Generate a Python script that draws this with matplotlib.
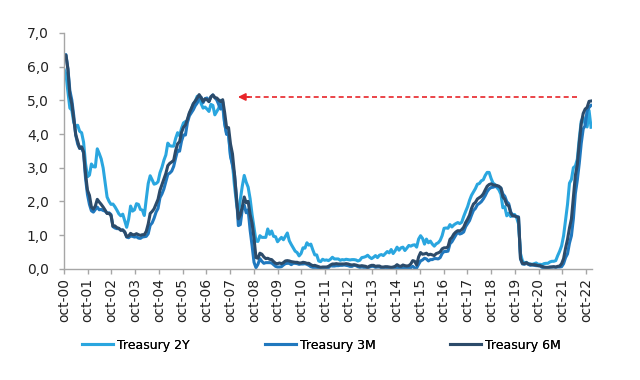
import matplotlib
matplotlib.use("Agg")
import matplotlib.pyplot as plt
import numpy as np

# Monthly values, Oct 2000 .. Mar 2023 (%)
treasury_3m = [
    6.29, 6.36, 5.94,
    5.29, 5.01, 4.54, 3.97, 3.70, 3.57, 3.59, 3.44, 2.69, 2.20, 1.91, 1.72,
    1.68, 1.76, 1.83, 1.75, 1.76, 1.73, 1.71, 1.65, 1.66, 1.61, 1.25, 1.21,
    1.19, 1.19, 1.15, 1.15, 1.09, 0.94, 0.92, 0.97, 0.96, 0.94, 0.95, 0.91,
    0.90, 0.94, 0.95, 0.96, 1.04, 1.29, 1.36, 1.50, 1.68, 1.79, 2.11, 2.22,
    2.37, 2.58, 2.80, 2.84, 2.90, 3.04, 3.29, 3.52, 3.49, 3.79, 3.97, 3.97,
    4.34, 4.54, 4.63, 4.72, 4.84, 4.92, 5.08, 5.09, 4.93, 5.05, 5.07, 4.97,
    5.11, 5.16, 5.08, 5.01, 4.87, 4.74, 4.96, 4.32, 3.99, 4.00, 3.35, 3.07,
    2.82, 2.17, 1.28, 1.31, 1.76, 1.89, 1.66, 1.75, 1.15, 0.69, 0.19, 0.03,
    0.13, 0.30, 0.22, 0.16, 0.18, 0.18, 0.18, 0.17, 0.12, 0.07, 0.05, 0.05,
    0.06, 0.11, 0.15, 0.16, 0.16, 0.12, 0.16, 0.16, 0.15, 0.13, 0.14, 0.14,
    0.15, 0.13, 0.10, 0.06, 0.04, 0.04, 0.04, 0.02, 0.01, 0.02, 0.01, 0.01,
    0.03, 0.09, 0.08, 0.08, 0.09, 0.09, 0.10, 0.10, 0.11, 0.10, 0.09, 0.07,
    0.07, 0.10, 0.09, 0.06, 0.04, 0.05, 0.04, 0.04, 0.02, 0.05, 0.07, 0.07,
    0.04, 0.05, 0.05, 0.03, 0.03, 0.04, 0.03, 0.03, 0.02, 0.02, 0.02, 0.03,
    0.03, 0.02, 0.03, 0.02, 0.02, 0.02, 0.03, 0.07, 0.02, 0.02, 0.13, 0.23,
    0.26, 0.31, 0.29, 0.23, 0.27, 0.27, 0.30, 0.30, 0.29, 0.33, 0.45, 0.51,
    0.51, 0.52, 0.74, 0.80, 0.90, 1.00, 1.09, 1.03, 1.05, 1.09, 1.25, 1.34,
    1.43, 1.59, 1.73, 1.79, 1.90, 1.94, 1.99, 2.07, 2.17, 2.29, 2.37, 2.41,
    2.42, 2.44, 2.45, 2.43, 2.40, 2.22, 2.15, 1.99, 1.93, 1.69, 1.57, 1.57,
    1.55, 1.54, 0.29, 0.14, 0.13, 0.16, 0.13, 0.10, 0.11, 0.10, 0.09, 0.09,
    0.08, 0.04, 0.03, 0.02, 0.02, 0.04, 0.05, 0.05, 0.04, 0.05, 0.05, 0.06,
    0.15, 0.33, 0.44, 0.76, 0.98, 1.49, 2.23, 2.63, 3.13, 3.72, 4.15, 4.25,
    4.69, 4.79, 4.85,
]

treasury_6m = [
    6.34, 6.34, 5.93,
    5.15, 4.89, 4.43, 3.98, 3.78, 3.58, 3.62, 3.47, 2.82, 2.33, 2.18, 1.83,
    1.77, 1.86, 2.06, 1.98, 1.91, 1.83, 1.74, 1.64, 1.64, 1.58, 1.26, 1.27,
    1.22, 1.20, 1.14, 1.15, 1.09, 0.95, 0.97, 1.05, 1.01, 1.01, 1.04, 1.01,
    0.99, 1.01, 1.01, 1.11, 1.33, 1.64, 1.70, 1.78, 1.92, 2.06, 2.33, 2.50,
    2.66, 2.83, 3.06, 3.13, 3.17, 3.22, 3.51, 3.71, 3.77, 4.05, 4.20, 4.27,
    4.44, 4.63, 4.76, 4.90, 4.98, 5.07, 5.17, 5.08, 4.97, 5.04, 5.02, 4.96,
    5.10, 5.16, 5.08, 5.07, 5.01, 4.96, 5.02, 4.64, 4.19, 4.19, 3.70, 3.41,
    2.82, 2.11, 1.48, 1.60, 1.83, 2.13, 1.96, 2.00, 1.61, 1.35, 0.90, 0.33,
    0.31, 0.46, 0.43, 0.35, 0.30, 0.31, 0.28, 0.27, 0.21, 0.16, 0.15, 0.17,
    0.15, 0.18, 0.23, 0.24, 0.23, 0.21, 0.20, 0.19, 0.19, 0.17, 0.17, 0.19,
    0.18, 0.16, 0.16, 0.12, 0.09, 0.10, 0.08, 0.06, 0.04, 0.05, 0.05, 0.05,
    0.07, 0.11, 0.14, 0.14, 0.15, 0.14, 0.14, 0.14, 0.14, 0.15, 0.14, 0.12,
    0.11, 0.12, 0.11, 0.09, 0.08, 0.09, 0.08, 0.07, 0.04, 0.08, 0.10, 0.10,
    0.07, 0.08, 0.08, 0.05, 0.05, 0.06, 0.06, 0.05, 0.04, 0.05, 0.07, 0.12,
    0.08, 0.07, 0.11, 0.09, 0.08, 0.09, 0.14, 0.24, 0.22, 0.11, 0.35, 0.48,
    0.43, 0.44, 0.46, 0.41, 0.43, 0.41, 0.39, 0.45, 0.47, 0.50, 0.59, 0.62,
    0.62, 0.65, 0.87, 0.93, 1.03, 1.09, 1.13, 1.12, 1.16, 1.23, 1.37, 1.47,
    1.59, 1.79, 1.92, 1.97, 2.07, 2.11, 2.15, 2.22, 2.34, 2.45, 2.50, 2.52,
    2.49, 2.48, 2.47, 2.45, 2.39, 2.13, 2.06, 1.90, 1.87, 1.66, 1.57, 1.57,
    1.54, 1.52, 0.31, 0.16, 0.15, 0.18, 0.14, 0.13, 0.12, 0.12, 0.11, 0.09,
    0.09, 0.07, 0.05, 0.04, 0.04, 0.05, 0.05, 0.06, 0.05, 0.07, 0.08, 0.15,
    0.30, 0.61, 0.87, 1.21, 1.48, 2.11, 2.77, 3.09, 3.74, 4.30, 4.61, 4.74,
    4.79, 4.97, 4.98,
]

treasury_2y = [
    5.93, 5.78, 5.26,
    4.77, 4.71, 4.34, 4.23, 4.26, 4.08, 4.04, 3.76, 3.12, 2.73, 2.78, 3.11,
    3.03, 3.02, 3.56, 3.42, 3.26, 2.99, 2.56, 2.13, 2.00, 1.91, 1.92, 1.84,
    1.74, 1.63, 1.57, 1.62, 1.42, 1.23, 1.47, 1.86, 1.71, 1.75, 1.93, 1.91,
    1.76, 1.74, 1.58, 2.07, 2.53, 2.76, 2.64, 2.51, 2.53, 2.58, 2.85, 3.01,
    3.22, 3.38, 3.73, 3.65, 3.64, 3.64, 3.87, 4.04, 3.95, 4.17, 4.33, 4.37,
    4.39, 4.61, 4.72, 4.89, 4.97, 5.12, 5.12, 4.90, 4.77, 4.80, 4.74, 4.67,
    4.88, 4.85, 4.57, 4.67, 4.77, 5.00, 4.82, 4.31, 4.01, 3.97, 3.34, 3.12,
    2.48, 1.97, 1.62, 2.05, 2.45, 2.77, 2.57, 2.42, 2.08, 1.61, 1.21, 0.82,
    0.81, 0.98, 0.93, 0.93, 0.93, 1.18, 1.02, 1.12, 0.96, 0.95, 0.80, 0.87,
    0.93, 0.86, 0.96, 1.06, 0.83, 0.72, 0.62, 0.52, 0.48, 0.38, 0.45, 0.62,
    0.61, 0.77, 0.70, 0.73, 0.56, 0.41, 0.41, 0.23, 0.21, 0.28, 0.25, 0.26,
    0.24, 0.28, 0.34, 0.29, 0.29, 0.29, 0.25, 0.27, 0.26, 0.28, 0.27, 0.26,
    0.27, 0.27, 0.26, 0.23, 0.25, 0.33, 0.34, 0.36, 0.40, 0.34, 0.30, 0.34,
    0.39, 0.33, 0.40, 0.42, 0.39, 0.45, 0.51, 0.47, 0.57, 0.45, 0.53, 0.64,
    0.55, 0.62, 0.64, 0.54, 0.61, 0.69, 0.67, 0.70, 0.71, 0.64, 0.88, 0.98,
    0.90, 0.73, 0.88, 0.77, 0.82, 0.73, 0.67, 0.74, 0.77, 0.84, 0.98, 1.20,
    1.21, 1.20, 1.31, 1.24, 1.30, 1.34, 1.37, 1.34, 1.38, 1.55, 1.70, 1.84,
    2.03, 2.18, 2.28, 2.38, 2.51, 2.53, 2.61, 2.64, 2.77, 2.86, 2.86, 2.68,
    2.54, 2.50, 2.41, 2.34, 2.21, 1.81, 1.84, 1.57, 1.65, 1.55, 1.61, 1.61,
    1.52, 1.33, 0.45, 0.23, 0.17, 0.19, 0.15, 0.14, 0.13, 0.15, 0.17, 0.13,
    0.13, 0.12, 0.15, 0.16, 0.16, 0.20, 0.22, 0.22, 0.24, 0.39, 0.52, 0.68,
    0.98, 1.44, 1.91, 2.54, 2.65, 3.00, 3.05, 3.25, 3.86, 4.38, 4.50, 4.29,
    4.21, 4.70, 4.20,
]

x_labels = ["oct-%02d" % y for y in range(0, 23)]
y_ticks = [0, 1, 2, 3, 4, 5, 6, 7]
series_names = ["Treasury 2Y", "Treasury 3M", "Treasury 6M"]
colors = ["#2AA6DF", "#2078BE", "#2C4B6A"]

plt.rcParams['font.family'] = ['DejaVu Sans']

fig = plt.figure(figsize=(6.4, 3.8), dpi=100)
ax = fig.add_axes([63.5 / 640, 1 - 268.7 / 380, (591.5 - 63.5) / 640, (268.7 - 33) / 380])

n = len(treasury_3m)
x_end = 22.21
x = np.arange(n) * (x_end / (n - 1))

lines = []
for vals, name, c in zip([treasury_2y, treasury_3m, treasury_6m], series_names, colors):
    ln, = ax.plot(x, vals, color=c, lw=2.2, label=name, solid_joinstyle='round')
    lines.append(ln)

ax.set_xlim(-0.02, x_end + 0.02)
ax.set_ylim(0, 7)
ax.set_yticks(y_ticks)
ax.set_yticklabels([("%.1f" % v).replace(".", ",") for v in y_ticks], fontsize=10)
ax.set_xticks(range(len(x_labels)))
ax.set_xticklabels(x_labels, rotation=90, fontsize=10)

for s in ["top", "right"]:
    ax.spines[s].set_visible(False)
for s in ["left", "bottom"]:
    ax.spines[s].set_color("#A6A6A6")
    ax.spines[s].set_linewidth(1.0)
ax.tick_params(axis="both", colors="#A6A6A6", labelcolor="#222222", length=3.5, width=1.0, direction="out")
ax.tick_params(axis="y", pad=7)
ax.tick_params(axis="x", pad=3)

# red dashed arrow
y_arrow = 5.1
ax.plot([7.7, 21.73], [y_arrow, y_arrow], color="#E8252A", lw=1.2, dashes=(3, 2))
ax.annotate("", xy=(7.33, y_arrow), xytext=(7.8, y_arrow),
            arrowprops=dict(arrowstyle="-|>", color="#E8252A", lw=1.2, mutation_scale=11,
                            shrinkA=0, shrinkB=0))

# legends
leg_x = [82, 265, 450]
for ln, lx in zip(lines, leg_x):
    lg = fig.legend(handles=[ln], loc="center left", bbox_to_anchor=(lx / 640, 1 - 345 / 380),
                    frameon=False, fontsize=9, handlelength=2.5, handletextpad=0.3,
                    borderpad=0, borderaxespad=0)
    fig.add_artist(lg)

fig.savefig("out.png", dpi=100)
